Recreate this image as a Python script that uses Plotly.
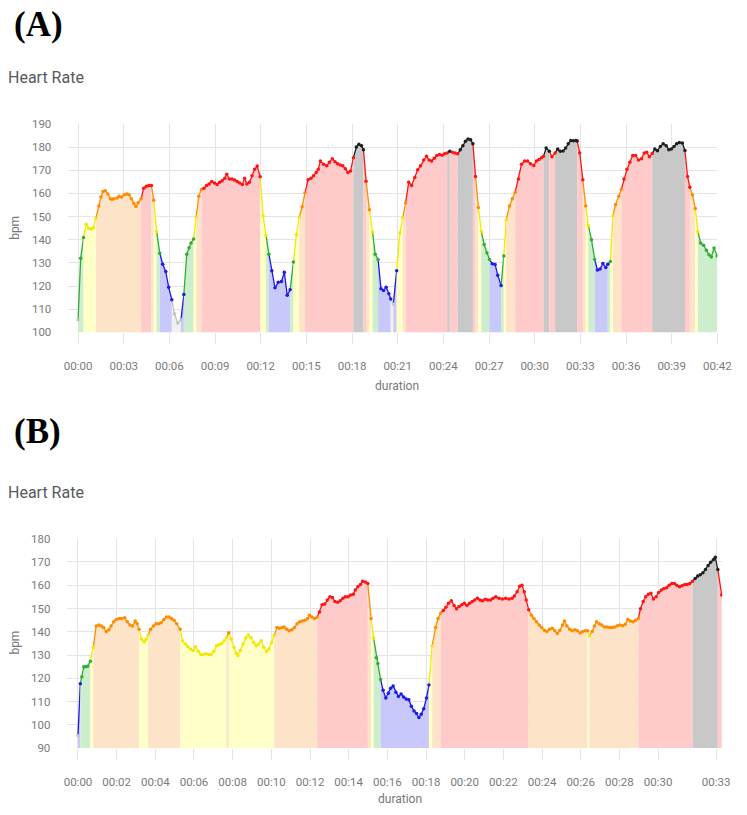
import plotly.graph_objects as go

# ---- (A) heart rate, minutes / bpm ----
a_min = [0.00, 0.17, 0.36, 0.53, 0.68, 0.85, 1.00, 1.17, 1.36, 1.50, 1.64, 1.79, 1.96, 2.13, 2.24, 2.35,
         2.56, 2.70, 2.86, 3.03, 3.20, 3.35, 3.50, 3.67, 3.80, 3.94, 4.14, 4.31, 4.48, 4.65, 4.82, 4.97,
         5.16, 5.37, 5.56, 5.76, 5.95, 6.16, 6.33, 6.55, 6.76, 6.95, 7.14, 7.29, 7.42, 7.59, 7.76, 7.93,
         8.10, 8.27, 8.44, 8.61, 8.78, 8.96, 9.13, 9.30, 9.47, 9.64, 9.77, 9.94, 10.11, 10.28, 10.45, 10.62,
         10.79, 10.94, 11.09, 11.26, 11.43, 11.60, 11.77, 11.96, 12.15, 12.35, 12.54, 12.73, 12.94, 13.15,
         13.36, 13.55, 13.74, 13.93, 14.15, 14.34, 14.53, 14.72, 14.91, 15.11, 15.30, 15.47, 15.64, 15.78,
         15.92, 16.13, 16.34, 16.51, 16.70, 16.88, 17.05, 17.22, 17.39, 17.56, 17.73, 17.90, 18.09, 18.28,
         18.45, 18.62, 18.75, 18.92, 19.14, 19.35, 19.52, 19.71, 19.90, 20.07, 20.24, 20.42, 20.54, 20.71,
         20.93, 21.14, 21.33, 21.52, 21.72, 21.91, 22.12, 22.31, 22.50, 22.70, 22.89, 23.06, 23.23, 23.40,
         23.57, 23.74, 23.91, 24.08, 24.25, 24.42, 24.60, 24.77, 24.94, 25.11, 25.28, 25.45, 25.62, 25.79,
         25.94, 26.11, 26.30, 26.49, 26.68, 26.86, 27.03, 27.21, 27.40, 27.57, 27.79, 27.97, 28.12, 28.34,
         28.53, 28.72, 28.93, 29.13, 29.34, 29.53, 29.72, 29.94, 30.11, 30.28, 30.45, 30.58, 30.75, 30.96,
         31.13, 31.34, 31.51, 31.68, 31.86, 32.03, 32.20, 32.37, 32.54, 32.71, 32.79, 32.96, 33.16, 33.35,
         33.52, 33.73, 33.94, 34.12, 34.29, 34.48, 34.67, 34.80, 34.97, 35.14, 35.31, 35.52, 35.69, 35.86,
         36.06, 36.25, 36.44, 36.63, 36.82, 37.01, 37.19, 37.36, 37.53, 37.72, 37.89, 38.06, 38.25, 38.44,
         38.64, 38.81, 38.98, 39.15, 39.32, 39.50, 39.70, 39.87, 40.04, 40.19, 40.36, 40.55, 40.72, 40.90,
         41.09, 41.28, 41.45, 41.60, 41.78, 41.99]
a_bpm = [105.4, 132, 141, 146.7, 145, 144.6, 145.2, 149.2, 154.6, 158.4, 160.8, 161.1, 159.8, 157.7, 157.5, 157.7,
         158, 158.8, 158.4, 159.4, 159.8, 159.4, 157.7, 155.6, 154.3, 156, 157.7, 162.2, 163.1, 163.4, 163.4, 157,
         143.6, 134.2, 129.4, 126.3, 119.5, 114.1, 108, 104, 105.4, 116.3, 133.7, 136.5, 138.6, 140.3, 149.8, 158.8,
         161.7, 162.2, 163.4, 164.1, 165.1, 164.5, 163.9, 164.8, 165.5, 166.5, 168.3, 166.2, 166.2, 165.8, 165.1, 164.5,
         163.9, 166.5, 164.1, 164.8, 167.6, 170.4, 171.8, 167.2, 150.4, 141.9, 133.7, 126.6, 119.2, 121.6,
         121.9, 126, 116, 118.4, 130.4, 142.1, 149.8, 154.2, 160.3, 165.9, 166.5, 167.6, 169, 170.4,
         174, 172.6, 171.9, 173.5, 175, 173.7, 172.8, 172.3, 171.9, 170.7, 169, 169.7, 175.4, 180,
         181.2, 180.6, 178.9, 165.3, 152.9, 143.3, 133.7, 131.5, 118.8, 118.1, 119.5, 116.7, 114.4, 112.2,
         126.6, 142.9, 149.5, 155.9, 164.8, 163.4, 166.9, 170.2, 171.9, 174.4, 176.1, 174.4, 174, 175.2,
         176.4, 176.8, 176.5, 177.1, 177.5, 178.2, 177.8, 177.5, 177.1, 178.9, 180.6, 182.5, 183.5, 183.2,
         181.5, 167.3, 153.9, 143.6, 137.9, 134.4, 131.5, 129.6, 129.3, 124.7, 120.2, 133, 148.5, 154.6,
         157.7, 160.5, 166.2, 172.6, 174, 174, 172.8, 172.1, 174, 174.7, 175.4, 176.1, 179.6, 178.2,
         175.8, 177.5, 179.2, 178.2, 178.3, 179.6, 181.5, 182.9, 182.7, 182.9, 182.6, 177.5, 165.9, 154.6,
         146.1, 140, 131.5, 126.9, 127.3, 129.7, 128, 129.4, 130.6, 150.4, 155.2, 158.8, 161.7, 166.2,
         170.4, 173.5, 176.4, 176.4, 174.4, 175, 177.5, 177.8, 175.8, 177.2, 179.2, 178.4, 180.3, 181.5,
         180.6, 178.9, 179.2, 180.3, 181.5, 182, 181.8, 178.5, 167.3, 162.7, 159.4, 153.5, 143.6, 138.6,
         137.6, 135.4, 133.5, 132.5, 136.4, 133]
a_zones = [113, 130, 141.5, 151.5, 162, 178]
a_ticks = list(range(0, 43, 3))

# ---- (B) heart rate ----
b_min = [0.00, 0.12, 0.20, 0.30, 0.40, 0.50, 0.64, 0.79, 0.94, 1.08, 1.21, 1.33, 1.46, 1.60, 1.71, 1.85,
         1.98, 2.12, 2.25, 2.42, 2.55, 2.69, 2.82, 2.96, 3.06, 3.16, 3.29, 3.43, 3.53, 3.63, 3.76, 3.90,
         4.03, 4.17, 4.30, 4.44, 4.57, 4.71, 4.84, 4.97, 5.11, 5.28, 5.41, 5.55, 5.68, 5.82, 5.95, 6.08,
         6.22, 6.35, 6.49, 6.62, 6.76, 6.89, 7.03, 7.16, 7.29, 7.43, 7.56, 7.68, 7.80, 7.93, 8.07, 8.18,
         8.27, 8.40, 8.54, 8.67, 8.81, 8.94, 9.08, 9.21, 9.34, 9.48, 9.61, 9.75, 9.88, 10.02, 10.15, 10.29,
         10.42, 10.55, 10.66, 10.79, 10.92, 11.06, 11.19, 11.33, 11.46, 11.60, 11.73, 11.87, 11.97, 12.10,
         12.24, 12.37, 12.49, 12.62, 12.76, 12.89, 13.03, 13.16, 13.29, 13.43, 13.56, 13.70, 13.83, 13.97,
         14.10, 14.24, 14.34, 14.47, 14.61, 14.72, 14.86, 14.99, 15.16, 15.29, 15.43, 15.51, 15.65, 15.78,
         15.92, 16.05, 16.17, 16.30, 16.44, 16.57, 16.71, 16.84, 16.97, 17.11, 17.24, 17.38, 17.51, 17.63,
         17.75, 17.88, 18.02, 18.15, 18.32, 18.49, 18.62, 18.76, 18.89, 19.03, 19.16, 19.31, 19.45, 19.58,
         19.71, 19.85, 19.98, 20.12, 20.25, 20.39, 20.52, 20.66, 20.79, 20.92, 21.06, 21.19, 21.33, 21.46,
         21.61, 21.78, 21.95, 22.12, 22.29, 22.45, 22.57, 22.71, 22.84, 22.96, 23.08, 23.18, 23.31, 23.45,
         23.58, 23.71, 23.85, 23.98, 24.12, 24.25, 24.39, 24.52, 24.66, 24.79, 24.92, 25.06, 25.16, 25.29,
         25.43, 25.56, 25.70, 25.83, 25.97, 26.10, 26.24, 26.35, 26.45, 26.59, 26.71, 26.82, 26.96, 27.09,
         27.23, 27.36, 27.50, 27.63, 27.76, 27.90, 28.03, 28.17, 28.30, 28.44, 28.57, 28.71, 28.84, 28.98,
         29.09, 29.23, 29.36, 29.50, 29.63, 29.76, 29.90, 30.03, 30.17, 30.30, 30.44, 30.57, 30.71, 30.84,
         30.97, 31.11, 31.24, 31.38, 31.51, 31.64, 31.78, 31.92, 32.05, 32.18, 32.32, 32.45, 32.59, 32.72,
         32.86, 32.96, 33.09, 33.29]
b_bpm = [95.3, 117.6, 120.7, 124.9, 124.9, 125.2, 127.3, 133.3, 142.5, 142.9, 142.5, 141.8, 140.1, 140.9, 142.5, 144.3,
         145.3, 145.7, 145.7, 146, 144.3, 142.9, 142.5, 144.6, 143.4, 141.1, 136.8, 135.7, 136.8, 138.6, 141.1, 142.5,
         143.4, 143.4, 143.9, 145.3, 146.3, 146.3, 145.7, 144.9, 143.4, 141.1, 136.1, 134.7, 133.6, 132.6, 131.9, 133.6,
         131.6, 130.2, 130.2, 130.5, 130.2, 130.2, 131.6, 134, 134.4, 135, 136.1, 137.5, 139.6, 136.8, 133.3, 130.8,
         129.8, 131.9, 134.7, 137.3, 138.6, 137.5, 135.4, 134, 134.7, 136.1, 133.3, 131.6, 132.6, 135.4, 138.5, 141.8,
         141.5, 141.8, 142, 141.1, 140.4, 140.9, 141.8, 143.4, 144.3, 144.6, 144.9, 145.7, 147.1, 146.3,
         145.7, 146.3, 148.5, 151.6, 151.9, 153.7, 155.1, 154.7, 153, 152.7, 153.3, 154.4, 155.1, 155.1,
         155.8, 156.1, 157.9, 159.3, 160.3, 161.7, 161.4, 160.7, 145.7, 137.3, 128.8, 126.3, 119.5, 114.8,
         111.5, 113.6, 115.7, 116.7, 114, 112.2, 113.2, 111.9, 111.1, 110.8, 108, 105.9, 104.9, 103.1,
         104.5, 106.9, 111.5, 117.1, 134, 141.8, 145.7, 148.1, 149.1, 150.5, 152.3, 153.3, 151.3, 149.9,
         150.9, 151.6, 152.2, 151.3, 152.3, 153, 153.7, 154.4, 153.7, 153.3, 154, 153.7, 153.7, 154.4,
         155.1, 154.4, 154.1, 154.4, 154.1, 154.4, 155.4, 157.2, 159.6, 160, 157.2, 153.7, 149.5, 147.1,
         145.7, 144.3, 142.9, 141.8, 140.6, 140.1, 141.1, 141.5, 140.4, 139.2, 140.6, 142.9, 144.6, 142.5,
         141.1, 140.4, 140.9, 140.4, 139.5, 140.1, 140.4, 140.4, 138.2, 140.1, 142.5, 144.3, 143.4, 142.9,
         142, 142, 141.8, 141.8, 142, 142.6, 142.9, 142.6, 143.2, 145.3, 144.6, 144.3, 144.9, 145.7,
         149.9, 153, 155.1, 156.1, 156.5, 154.1, 155.1, 156.9, 157.9, 158.6, 158.9, 160, 160.7, 160.7,
         160, 159.3, 159.8, 160.3, 160.3, 160.7, 161.7, 162.9, 164, 164.5, 165.4, 166.8, 168.5, 169.9,
         171, 172, 166.8, 155.8]
b_zones = [100, 119, 129.5, 139, 148.3, 162.5]
b_ticks = list(range(0, 31, 2)) + [33]

# zone colours: below-first, blue, green, yellow, orange, red, max
LINE = ['#c4c4c4', '#1c1ce6', '#2fae2f', '#f0ea00', '#ff8c00', '#ff1414', '#1e1e1e']
FILL = ['#f0f0f0', '#c8c8fa', '#cdeecd', '#ffffc8', '#fde3c8', '#ffcaca', '#c8c8c8']
W, H = 747, 815


def zone(v, bounds):
    return sum(1 for b in bounds if v >= b)


def add_hr(fig, t, v, bounds, xa, ya):
    z = [zone(val, bounds) for val in v]
    # each segment takes the zone of its end point; group equal neighbours
    i = 1
    while i < len(t):
        j = i
        while j + 1 < len(t) and z[j + 1] == z[i]:
            j += 1
        fig.add_trace(go.Scatter(
            x=t[i - 1:j + 1], y=v[i - 1:j + 1], mode='lines', xaxis=xa, yaxis=ya,
            line=dict(color=LINE[z[i]], width=1.3), fill='tozeroy', fillcolor=FILL[z[i]],
            hoverinfo='skip', showlegend=False))
        i = j + 1
    fig.add_trace(go.Scatter(
        x=t, y=v, mode='markers', xaxis=xa, yaxis=ya, showlegend=False,
        marker=dict(size=3.5, color=[LINE[k] for k in z])))


fig = go.Figure()
add_hr(fig, a_min, a_bpm, a_zones, 'x', 'y')
add_hr(fig, b_min, b_bpm, b_zones, 'x2', 'y2')

grid = '#e4e4e4'
tickfont = dict(family='Roboto', size=11.5, color='#7a7a7a')
xcommon = dict(showgrid=True, gridcolor=grid, zeroline=False, showline=False, ticks='outside',
               ticklen=11, tickcolor=grid, tickfont=tickfont, ticklabelstandoff=12)
ycommon = dict(showgrid=True, gridcolor=grid, zeroline=False, showline=False, ticks='',
               tickfont=tickfont, ticklabelstandoff=16, dtick=10)

fig.update_layout(
    width=W, height=H, margin=dict(l=0, r=0, t=0, b=0),
    paper_bgcolor='white', plot_bgcolor='white',
    xaxis=dict(domain=[66 / W, 732 / W], range=[-0.64, 42], anchor='y',
               tickvals=a_ticks, ticktext=['00:%02d' % m for m in a_ticks], **xcommon),
    yaxis=dict(domain=[1 - 331 / H, 1 - 119 / H], range=[100, 190], anchor='x', **ycommon),
    xaxis2=dict(domain=[65 / W, 737 / W], range=[-0.55, 33.32], anchor='y2',
                tickvals=b_ticks, ticktext=['00:%02d' % m for m in b_ticks], **xcommon),
    yaxis2=dict(domain=[1 - 754 / H, 1 - 541 / H], range=[90, 180], anchor='x2', **ycommon),
)

labels = [
    ('<b>(A)</b>', 8, 18, 'left', 0, dict(family='Liberation Serif', size=35, color='black')),
    ('Heart Rate', 2, 72, 'left', 0, dict(family='Roboto', size=16, color='#555a60')),
    ('bpm', 11, 225, 'center', -90, dict(family='Roboto', size=12, color='#777777')),
    ('duration', 403, 386, 'center', 0, dict(family='Roboto', size=12, color='#777777')),
    ('<b>(B)</b>', 8, 432, 'left', 0, dict(family='Liberation Serif', size=35, color='black')),
    ('Heart Rate', 2, 494, 'left', 0, dict(family='Roboto', size=16, color='#555a60')),
    ('bpm', 11, 647, 'center', -90, dict(family='Roboto', size=12, color='#777777')),
    ('duration', 406, 806, 'center', 0, dict(family='Roboto', size=12, color='#777777')),
]
for text, px, py, anchor, angle, font in labels:
    fig.add_annotation(text=text, x=px / W, y=1 - py / H, xref='paper', yref='paper',
                       xanchor=anchor, yanchor='middle', showarrow=False, textangle=angle, font=font)

# pin the fixed-size figure to the window corner so nothing scrolls
pin = ("document.body.style.margin='0';"
       "document.documentElement.style.overflow='hidden';"
       "var d=document.getElementById('{plot_id}');"
       "d.style.position='fixed';d.style.left='0';d.style.top='0';")
fig.write_html("out.html", config={'displayModeBar': False}, post_script=pin)
